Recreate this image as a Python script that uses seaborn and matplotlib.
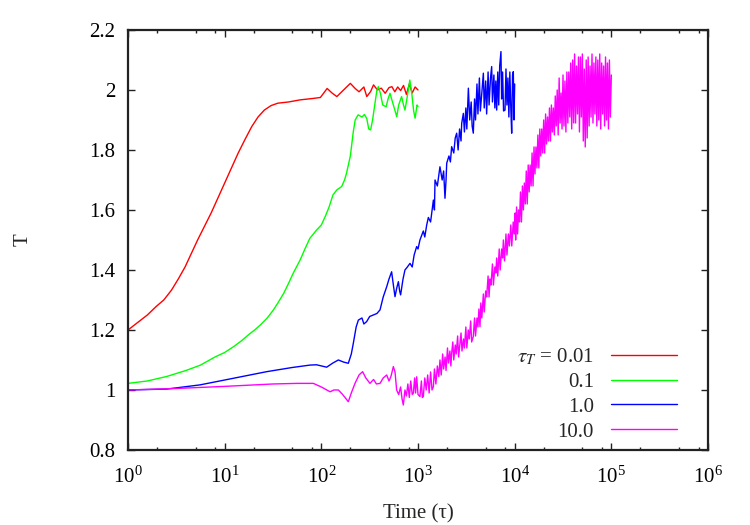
import matplotlib

matplotlib.use("Agg")
import matplotlib.pyplot as plt
import matplotlib.ticker as mticker
import numpy as np
import pandas as pd
import seaborn as sns

# time axis values are stored as log10(time)
log_time_red = [
    0.0, 0.1, 0.2, 0.29, 0.37, 0.45, 0.52, 0.59, 0.655, 0.72,
    0.79, 0.86, 0.93, 1.0, 1.07, 1.14, 1.21, 1.28, 1.345, 1.41,
    1.48, 1.55, 1.66, 1.78, 1.92, 1.99, 2.06, 2.11, 2.16, 2.23,
    2.30, 2.35, 2.39, 2.44, 2.47, 2.51, 2.54, 2.58, 2.62, 2.66,
    2.70, 2.73, 2.76, 2.79, 2.82, 2.85, 2.88, 2.91, 2.94, 2.97,
    3.0,
]
temp_red = [
    1.20, 1.225, 1.25, 1.278, 1.30, 1.333, 1.37, 1.41, 1.455, 1.50,
    1.545, 1.59, 1.64, 1.69, 1.74, 1.79, 1.835, 1.878, 1.91, 1.933,
    1.948, 1.956, 1.96, 1.967, 1.972, 1.975, 2.005, 1.99, 1.978, 2.00,
    2.022, 2.005, 1.994, 2.01, 1.978, 1.995, 2.017, 2.0, 2.006, 1.989,
    2.008, 2.011, 1.994, 2.01, 1.998, 2.015, 1.985, 2.02, 1.99, 2.01,
    2.0,
]

log_time_green = [
    0.0, 0.2, 0.4, 0.6, 0.75, 0.9, 1.0, 1.09, 1.17, 1.25,
    1.31, 1.37, 1.44, 1.5, 1.55, 1.61, 1.66, 1.71, 1.78, 1.83,
    1.88, 1.95, 2.0, 2.04, 2.08, 2.12, 2.16, 2.21, 2.24, 2.26,
    2.30, 2.33, 2.35, 2.38, 2.42, 2.445, 2.47, 2.49, 2.51, 2.53,
    2.555, 2.575, 2.59, 2.61, 2.635, 2.67, 2.69, 2.71, 2.745, 2.78,
    2.80, 2.83, 2.85, 2.865, 2.89, 2.915, 2.935, 2.955, 2.97, 2.99,
    3.0,
]
temp_green = [
    1.022, 1.03, 1.045, 1.065, 1.083, 1.11, 1.125, 1.144, 1.163, 1.185,
    1.20, 1.217, 1.24, 1.265, 1.29, 1.322, 1.355, 1.39, 1.433, 1.47,
    1.505, 1.533, 1.55, 1.578, 1.61, 1.65, 1.667, 1.678, 1.70, 1.722,
    1.78, 1.86, 1.90, 1.917, 1.91, 1.918, 1.905, 1.87, 1.867, 1.90,
    1.956, 2.0, 2.011, 1.99, 1.95, 1.944, 1.97, 1.989, 1.95, 1.911,
    1.95, 1.978, 1.95, 1.933, 1.98, 2.033, 1.99, 1.93, 1.906, 1.95,
    1.945,
]

log_time_blue = [
    0.0, 0.4, 0.745, 1.09, 1.434, 1.7, 1.883, 1.95, 2.055, 2.12,
    2.176, 2.23, 2.279, 2.31, 2.331, 2.36, 2.383, 2.42, 2.44, 2.469,
    2.5, 2.538, 2.575, 2.607, 2.64, 2.676, 2.7, 2.727, 2.745, 2.762,
    2.78, 2.797, 2.81, 2.82, 2.845, 2.865, 2.89, 2.917, 2.94, 2.96,
    2.986, 3.0, 3.02, 3.055, 3.07, 3.09, 3.107, 3.13, 3.159, 3.17,
    3.176, 3.2, 3.227, 3.25, 3.265, 3.279, 3.29, 3.297, 3.32, 3.335,
    3.348, 3.37, 3.385, 3.4, 3.415, 3.43, 3.445, 3.452, 3.469, 3.48,
    3.495, 3.505, 3.521, 3.535, 3.55, 3.56, 3.572, 3.585, 3.595, 3.61,
    3.62, 3.635, 3.645, 3.66, 3.676, 3.685, 3.70, 3.71, 3.725, 3.735,
    3.75, 3.762, 3.77, 3.785, 3.795, 3.805, 3.814, 3.825, 3.835, 3.845,
    3.858, 3.865, 3.875, 3.885, 3.9, 3.91, 3.92, 3.93, 3.94, 3.95,
    3.96, 3.969, 3.978, 3.986, 3.993, 4.0,
]
temp_blue = [
    1.0, 1.003, 1.017, 1.039, 1.061, 1.075, 1.083, 1.084, 1.076, 1.09,
    1.10, 1.093, 1.089, 1.12, 1.156, 1.21, 1.233, 1.24, 1.22, 1.228,
    1.245, 1.25, 1.255, 1.267, 1.31, 1.344, 1.37, 1.394, 1.35, 1.311,
    1.34, 1.361, 1.33, 1.317, 1.37, 1.40, 1.41, 1.422, 1.41, 1.45,
    1.478, 1.47, 1.50, 1.53, 1.51, 1.55, 1.575, 1.56, 1.633, 1.60,
    1.70, 1.68, 1.744, 1.70, 1.73, 1.639, 1.70, 1.756, 1.78, 1.76,
    1.811, 1.79, 1.84, 1.856, 1.80, 1.87, 1.83, 1.889, 1.922, 1.86,
    1.94, 1.87, 2.006, 1.90, 1.96, 1.88, 1.856, 1.97, 1.90, 2.02,
    1.92, 2.04, 1.93, 1.99, 2.056, 1.94, 2.03, 1.92, 2.06, 1.95,
    2.04, 2.078, 1.96, 2.05, 1.94, 2.03, 1.933, 2.06, 1.95, 2.08,
    2.128, 1.97, 2.06, 1.93, 1.933, 2.07, 1.95, 2.04, 1.91, 2.06,
    1.94, 1.856, 2.05, 2.061, 1.90, 2.02,
]

log_time_magenta = [
    0.0, 0.5, 1.0, 1.5, 1.75, 1.917, 2.0, 2.09, 2.13, 2.176,
    2.22, 2.279, 2.31, 2.348, 2.39, 2.427, 2.46, 2.503, 2.54, 2.57,
    2.607, 2.64, 2.676, 2.7, 2.72, 2.745, 2.762, 2.779, 2.80, 2.82,
    2.835, 2.848, 2.865, 2.88, 2.895, 2.91, 2.925, 2.94, 2.952, 2.965,
    2.975, 2.986, 3.0, 3.02, 3.035, 3.045, 3.055, 3.07, 3.085, 3.1,
    3.115, 3.13, 3.145, 3.159, 3.17, 3.185, 3.2, 3.215, 3.227, 3.24,
    3.255, 3.265, 3.28, 3.29, 3.305, 3.315, 3.33, 3.34, 3.348, 3.36,
    3.37, 3.385, 3.395, 3.41, 3.42, 3.434, 3.445, 3.455, 3.47, 3.48,
    3.495, 3.505, 3.52, 3.53, 3.545, 3.555, 3.572, 3.585, 3.595, 3.61,
    3.62, 3.63, 3.641, 3.65, 3.66, 3.676, 3.685, 3.70, 3.71, 3.725,
    3.735, 3.745, 3.755, 3.77, 3.78, 3.795, 3.805, 3.814, 3.825, 3.84,
    3.85, 3.865, 3.875, 3.883, 3.895, 3.91, 3.92, 3.935, 3.945, 3.96,
    3.97, 3.985, 3.995, 4.005,
    4.01, 4.02, 4.03, 4.04, 4.05, 4.06, 4.07, 4.08, 4.09, 4.10,
    4.11, 4.12, 4.13, 4.14, 4.15, 4.16, 4.17, 4.18, 4.19, 4.20,
    4.21, 4.22, 4.23, 4.24, 4.25, 4.26, 4.27, 4.28, 4.29, 4.30,
    4.31, 4.32, 4.33, 4.34, 4.35, 4.36, 4.37, 4.38, 4.39, 4.40,
    4.41, 4.42, 4.43, 4.44, 4.45, 4.46, 4.47, 4.48, 4.49, 4.50,
    4.51, 4.52, 4.53, 4.54, 4.55, 4.56, 4.57, 4.58, 4.59, 4.60,
    4.61, 4.62, 4.63, 4.64, 4.65, 4.66, 4.67, 4.68, 4.69, 4.70,
    4.71, 4.72, 4.73, 4.74, 4.75, 4.76, 4.77, 4.78, 4.79, 4.80,
    4.81, 4.82, 4.83, 4.84, 4.85, 4.86, 4.87, 4.88, 4.89, 4.90,
    4.91, 4.92, 4.93, 4.94, 4.95, 4.96, 4.97, 4.98, 4.99, 5.00,
]
temp_magenta = [
    1.0, 1.005, 1.012, 1.02, 1.022, 1.022, 1.01, 0.994, 1.0, 1.0,
    0.985, 0.961, 0.99, 1.022, 1.05, 1.061, 1.04, 1.022, 1.035, 1.02,
    1.022, 1.04, 1.05, 1.03, 1.045, 1.078, 1.06, 1.0, 0.985, 1.01,
    0.97, 0.95, 1.0, 0.98, 1.02, 0.975, 1.03, 0.985, 0.989, 1.04,
    0.99, 1.044, 0.985, 0.978, 1.03, 0.975, 0.978, 1.04, 1.0, 1.05,
    0.99, 1.06, 1.0, 1.011, 1.07, 1.02, 1.08, 1.045, 1.10, 1.05,
    1.12, 1.07, 1.11, 1.065, 1.14, 1.09, 1.13, 1.08, 1.122, 1.16,
    1.10, 1.15, 1.12, 1.18, 1.11, 1.156, 1.19, 1.13, 1.17, 1.14,
    1.21, 1.14, 1.20, 1.17, 1.23, 1.16, 1.178, 1.24, 1.18, 1.24,
    1.21, 1.27, 1.211, 1.29, 1.24, 1.32, 1.26, 1.33, 1.31, 1.38,
    1.31, 1.37, 1.35, 1.42, 1.35, 1.41, 1.39, 1.44, 1.38, 1.47,
    1.40, 1.47, 1.44, 1.50, 1.43, 1.52, 1.45, 1.52, 1.48, 1.55,
    1.48, 1.56, 1.52, 1.59,
    1.50, 1.61, 1.52, 1.60, 1.56, 1.66, 1.56, 1.68, 1.60, 1.69,
    1.62, 1.73, 1.62, 1.75, 1.66, 1.75, 1.68, 1.79, 1.68, 1.81,
    1.72, 1.81, 1.74, 1.85, 1.74, 1.87, 1.78, 1.87, 1.79, 1.90,
    1.79, 1.92, 1.82, 1.91, 1.83, 1.94, 1.83, 1.95, 1.86, 1.94,
    1.85, 1.98, 1.88, 2.00, 1.85, 2.04, 1.89, 1.99, 1.87, 2.05,
    1.88, 2.03, 1.86, 2.06, 1.89, 2.06, 1.91, 2.09, 1.87, 2.10,
    1.89, 2.12, 1.89, 2.08, 1.92, 2.11, 1.86, 2.11, 1.91, 2.12,
    1.83, 2.07, 1.81, 2.10, 1.84, 2.11, 1.88, 2.08, 1.91, 2.12,
    1.89, 2.09, 1.92, 2.11, 1.88, 2.10, 1.90, 2.12, 1.87, 2.09,
    1.92, 2.08, 1.88, 2.11, 1.90, 2.09, 1.87, 2.10, 1.91, 2.05,
]

series_labels = [r"$\tau_T$ = 0.01", "0.1", "1.0", "10.0"]
series_colors = ["#ff0000", "#00ff00", "#0000ff", "#ff00ff"]


def build_frame():
    frames = []
    pairs = [
        (log_time_red, temp_red),
        (log_time_green, temp_green),
        (log_time_blue, temp_blue),
        (log_time_magenta, temp_magenta),
    ]
    for label, (lt, tv) in zip(series_labels, pairs):
        frames.append(
            pd.DataFrame(
                {"time": np.power(10.0, np.array(lt)), "T": tv, "tau": label}
            )
        )
    return pd.concat(frames, ignore_index=True)


def plot_temperature():
    sns.set_theme(style="ticks")
    plt.rcParams["font.family"] = ["Liberation Serif", "DejaVu Serif"]
    plt.rcParams["mathtext.fontset"] = "stix"
    font_size = 15

    df = build_frame()

    fig = plt.figure(figsize=(7.5, 5.25), dpi=100)
    ax = fig.add_axes([0.1707, 0.1429, 0.7733, 0.8])
    sns.lineplot(
        data=df,
        x="time",
        y="T",
        hue="tau",
        hue_order=series_labels,
        palette=dict(zip(series_labels, series_colors)),
        estimator=None,
        sort=False,
        linewidth=1.0,
        ax=ax,
    )
    ax.set_xscale("log")
    ax.set_xlim(1, 1e6)
    ax.set_ylim(0.8, 2.2)
    ax.set_yticks(np.arange(0.8, 2.21, 0.2))
    ax.yaxis.set_major_formatter(mticker.FuncFormatter(lambda v, p: f"{v:g}"))
    ax.xaxis.set_major_locator(mticker.LogLocator(base=10, numticks=10))
    ax.xaxis.set_minor_locator(mticker.LogLocator(base=10, subs=(2, 5, 8), numticks=10))
    ax.xaxis.set_minor_formatter(mticker.NullFormatter())

    ax.tick_params(which="both", direction="in", top=True, right=True,
                   colors="#222222", labelcolor="black", labelsize=font_size)
    ax.tick_params(which="major", length=5, width=1.0)
    ax.tick_params(which="minor", length=2.5, width=1.0)
    ax.tick_params(axis="x", which="major", pad=12)
    ax.tick_params(axis="y", which="major", pad=9)
    for spine in ax.spines.values():
        spine.set_linewidth(1.6)
        spine.set_color("#222222")

    ax.set_xlabel("Time (τ)", fontsize=font_size)
    ax.xaxis.set_label_coords(0.5, -0.13)
    ax.set_ylabel("T", fontsize=font_size)
    ax.yaxis.set_label_coords(-0.164, 0.5)

    handles, labels = ax.get_legend_handles_labels()
    ax.legend(
        handles,
        labels,
        loc="lower right",
        bbox_to_anchor=(0.947, 0.02),
        frameon=False,
        markerfirst=False,
        handlelength=3.2,
        handletextpad=0.8,
        labelspacing=0.25,
        borderpad=0,
        borderaxespad=0,
        fontsize=font_size,
    )

    fig.savefig("out.png", dpi=100)


if __name__ == "__main__":
    plot_temperature()
